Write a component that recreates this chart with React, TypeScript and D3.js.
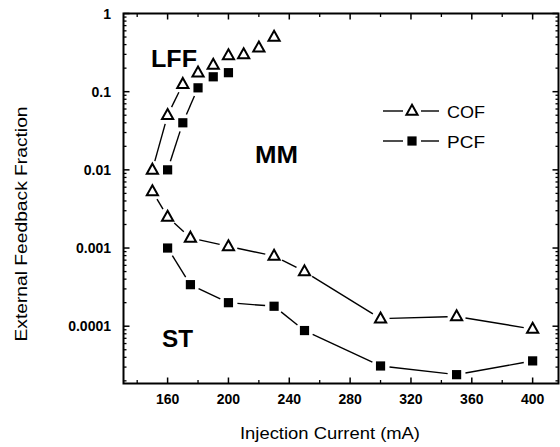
import * as d3 from "d3";

// injection current (mA) and feedback fraction
const cofUpperX = [150, 160, 170, 180, 190, 200, 210, 220, 230];
const cofUpperY = [0.01, 0.05, 0.125, 0.175, 0.22, 0.29, 0.3, 0.365, 0.5];
const cofLowerX = [150, 160, 175, 200, 230, 250, 300, 350, 400];
const cofLowerY = [0.0053, 0.0025, 0.00135, 0.00105, 0.00079, 0.0005, 0.000125, 0.000133, 0.000092];

const pcfUpperX = [160, 170, 180, 190, 200];
const pcfUpperY = [0.01, 0.04, 0.112, 0.155, 0.175];
const pcfLowerX = [160, 175, 200, 230, 250, 300, 350, 400];
const pcfLowerY = [0.001, 0.00034, 0.0002, 0.00018, 0.000088, 0.000031, 0.000024, 0.000036];

const xMajorTicks = [160, 200, 240, 280, 320, 360, 400];
const xMinorTicks = [140, 180, 220, 260, 300, 340, 380];
const yMajorTicks = [1, 0.1, 0.01, 0.001, 0.0001];
const yTickLabels = ["1", "0.1", "0.01", "0.001", "0.0001"];

const legendNames = ["COF", "PCF"];

const W = 560;
const H = 447;
const left = 123.5, right = 558.5, top = 13.5, bottom = 383.5;
const FONT = "'Liberation Sans', Arial, Helvetica, sans-serif";

const x = d3.scaleLinear().domain([131, 417]).range([left, right]);
const y = d3.scaleLog().domain([1.85e-5, 1]).range([bottom, top]);

const GAP = 9;

function segments(xs: number[], ys: number[]) {
  const out: { x1: number; y1: number; x2: number; y2: number }[] = [];
  for (let i = 0; i < xs.length - 1; i++) {
    const ax = x(xs[i]), ay = y(ys[i]);
    const bx = x(xs[i + 1]), by = y(ys[i + 1]);
    const d = Math.hypot(bx - ax, by - ay);
    if (d - 2 * GAP < 3) continue;
    const ux = (bx - ax) / d, uy = (by - ay) / d;
    out.push({ x1: ax + ux * GAP, y1: ay + uy * GAP, x2: bx - ux * GAP, y2: by - uy * GAP });
  }
  return out;
}

const triPath = "M0,-6.2L5.6,3.8L-5.6,3.8Z";

function Tri({ cx, cy }: { cx: number; cy: number }) {
  return <path d={triPath} transform={`translate(${cx},${cy})`} fill="white" stroke="black" strokeWidth={2} />;
}
function Sq({ cx, cy }: { cx: number; cy: number }) {
  return <rect x={cx - 4.6} y={cy - 4.6} width={9.2} height={9.2} fill="black" />;
}

function Series({ xs, ys, kind }: { xs: number[]; ys: number[]; kind: "tri" | "sq" }) {
  return (
    <g>
      {segments(xs, ys).map((s, i) => (
        <line key={i} {...s} stroke="black" strokeWidth={1.4} />
      ))}
      {xs.map((v, i) =>
        kind === "tri" ? <Tri key={i} cx={x(v)} cy={y(ys[i])} /> : <Sq key={i} cx={x(v)} cy={y(ys[i])} />
      )}
    </g>
  );
}

export default function App() {
  const yMinor = y.ticks().filter((t) => !yMajorTicks.some((m) => Math.abs(m - t) / t < 1e-6));

  return (
    <svg width={W} height={H} style={{ position: "absolute", left: 0, top: 0, background: "white" }} fontFamily={FONT}>
      <rect width={W} height={H} fill="white" />

      {/* frame */}
      <rect x={left} y={top} width={right - left} height={bottom - top} fill="none" stroke="black" strokeWidth={2} />

      {/* y ticks, inward on both sides */}
      {yMajorTicks.map((t) => (
        <g key={"ym" + t}>
          <line x1={left} x2={left + 6} y1={y(t)} y2={y(t)} stroke="black" strokeWidth={1.5} />
          <line x1={right} x2={right - 6} y1={y(t)} y2={y(t)} stroke="black" strokeWidth={1.5} />
        </g>
      ))}
      {yMinor.map((t) => (
        <g key={"yn" + t}>
          <line x1={left} x2={left + 3} y1={y(t)} y2={y(t)} stroke="black" strokeWidth={1.3} />
          <line x1={right} x2={right - 3} y1={y(t)} y2={y(t)} stroke="black" strokeWidth={1.3} />
        </g>
      ))}

      {/* x ticks, inward on top and bottom */}
      {xMajorTicks.map((t) => (
        <g key={"xm" + t}>
          <line x1={x(t)} x2={x(t)} y1={bottom} y2={bottom - 6} stroke="black" strokeWidth={1.5} />
          <line x1={x(t)} x2={x(t)} y1={top} y2={top + 6} stroke="black" strokeWidth={1.5} />
        </g>
      ))}
      {xMinorTicks.map((t) => (
        <g key={"xn" + t}>
          <line x1={x(t)} x2={x(t)} y1={bottom} y2={bottom - 3.5} stroke="black" strokeWidth={1.3} />
          <line x1={x(t)} x2={x(t)} y1={top} y2={top + 3.5} stroke="black" strokeWidth={1.3} />
        </g>
      ))}

      {/* tick labels */}
      {yMajorTicks.map((t, i) => (
        <text key={"yl" + t} x={111} y={y(t) + 5} textAnchor="end" fontSize={14} fontWeight="bold">
          {yTickLabels[i]}
        </text>
      ))}
      {xMajorTicks.map((t) => (
        <text key={"xl" + t} x={x(t)} y={404} textAnchor="middle" fontSize={14} fontWeight="bold">
          {t}
        </text>
      ))}

      {/* axis titles */}
      <text x={330} y={439} textAnchor="middle" fontSize={16} textLength={180} lengthAdjust="spacingAndGlyphs">
        Injection Current (mA)
      </text>
      <text
        transform="translate(27,224) rotate(-90)"
        textAnchor="middle"
        fontSize={16}
        textLength={235}
        lengthAdjust="spacingAndGlyphs"
      >
        External Feedback Fraction
      </text>

      {/* data */}
      <Series xs={cofUpperX} ys={cofUpperY} kind="tri" />
      <Series xs={cofLowerX} ys={cofLowerY} kind="tri" />
      <Series xs={pcfUpperX} ys={pcfUpperY} kind="sq" />
      <Series xs={pcfLowerX} ys={pcfLowerY} kind="sq" />

      {/* region labels */}
      <text x={151} y={66.5} fontSize={23} fontWeight="bold" textLength={46} lengthAdjust="spacingAndGlyphs">LFF</text>
      <text x={255} y={163} fontSize={24} fontWeight="bold" textLength={43} lengthAdjust="spacingAndGlyphs">MM</text>
      <text x={162} y={347} fontSize={24} fontWeight="bold" textLength={31} lengthAdjust="spacingAndGlyphs">ST</text>

      {/* legend */}
      {legendNames.map((name, i) => {
        const cy = 111 + i * 30;
        return (
          <g key={name}>
            <line x1={383} x2={403} y1={cy} y2={cy} stroke="black" strokeWidth={1.4} />
            <line x1={421} x2={439} y1={cy} y2={cy} stroke="black" strokeWidth={1.4} />
            {i === 0 ? <Tri cx={412} cy={cy} /> : <Sq cx={412} cy={cy} />}
            <text x={447} y={cy + 6.5} fontSize={17} textLength={38} lengthAdjust="spacingAndGlyphs">
              {name}
            </text>
          </g>
        );
      })}
    </svg>
  );
}
